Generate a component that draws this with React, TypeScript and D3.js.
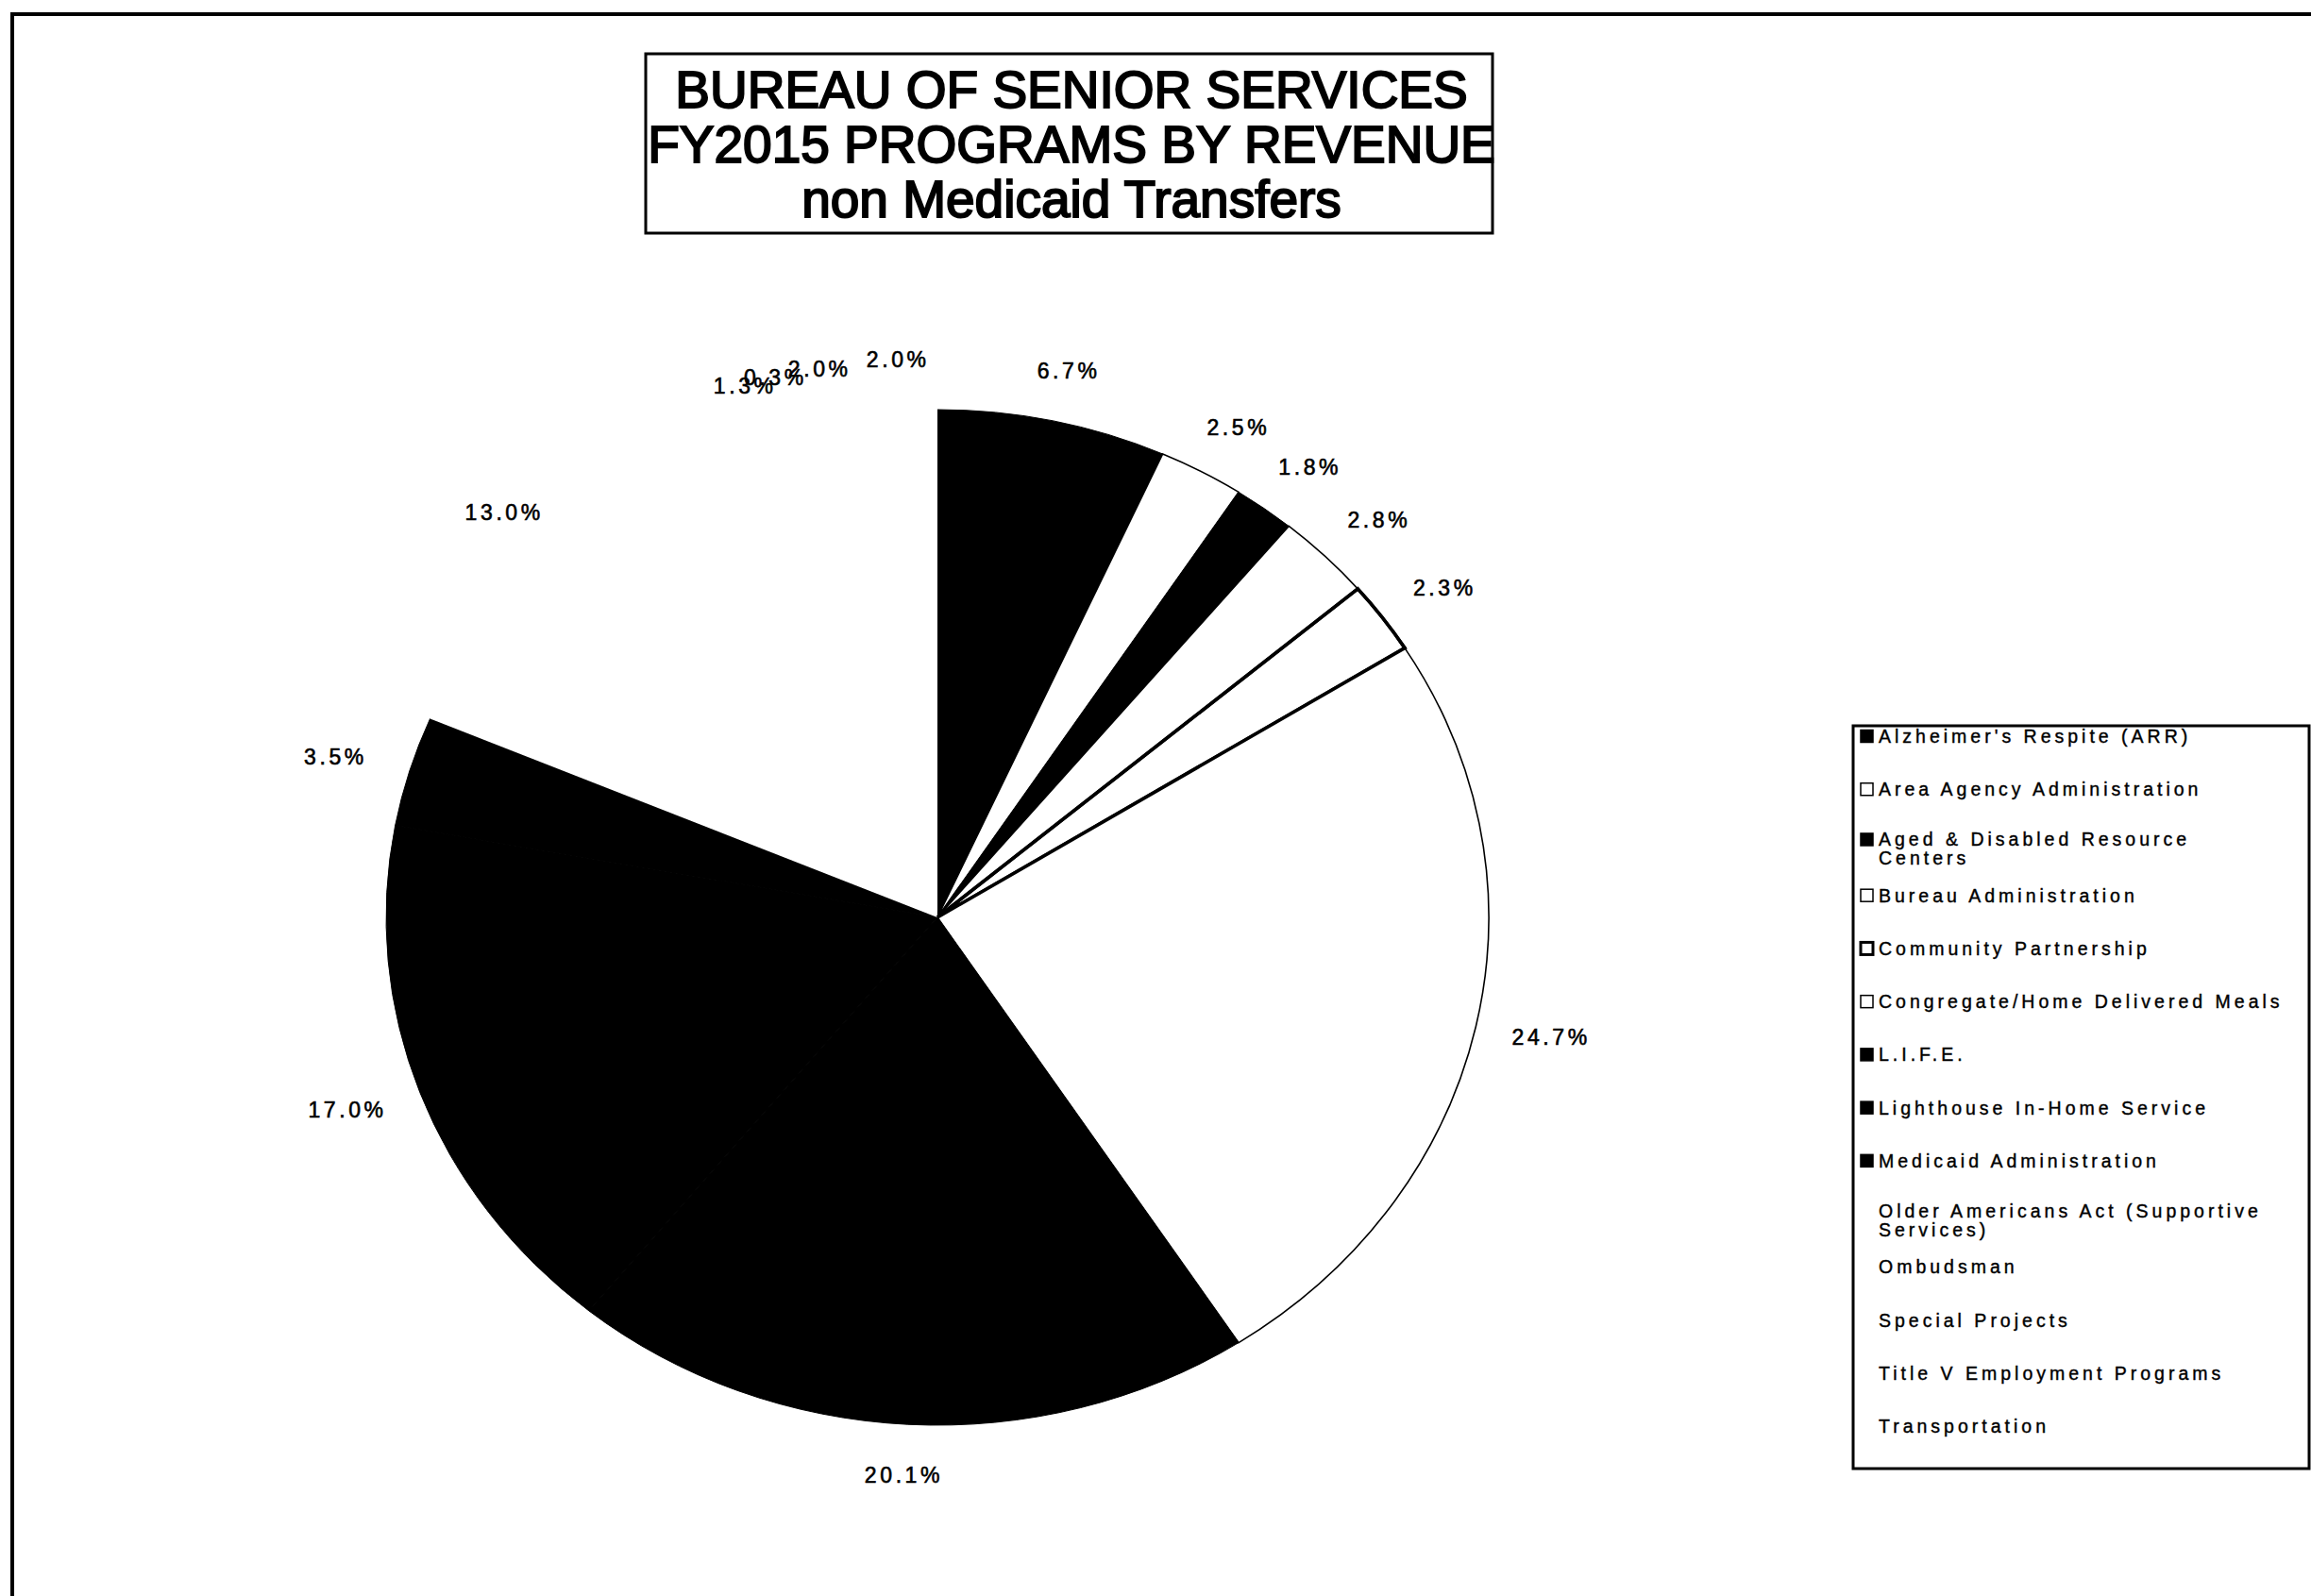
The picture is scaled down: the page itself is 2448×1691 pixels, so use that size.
import React from "react";
import * as d3 from "d3";

const titleLines = ["BUREAU OF SENIOR SERVICES", "FY2015 PROGRAMS BY REVENUE", "non Medicaid Transfers"];

const categories = [
  "Alzheimer's Respite (ARR)",
  "Area Agency Administration",
  "Aged & Disabled Resource Centers",
  "Bureau Administration",
  "Community Partnership",
  "Congregate/Home Delivered Meals",
  "L.I.F.E.",
  "Lighthouse In-Home Service",
  "Medicaid Administration",
  "Older Americans Act (Supportive Services)",
  "Ombudsman",
  "Special Projects",
  "Title V Employment Programs",
  "Transportation",
];

const legendLines = [
  ["Alzheimer's Respite (ARR)"],
  ["Area Agency Administration"],
  ["Aged & Disabled Resource", "Centers"],
  ["Bureau Administration"],
  ["Community Partnership"],
  ["Congregate/Home Delivered Meals"],
  ["L.I.F.E."],
  ["Lighthouse In-Home Service"],
  ["Medicaid Administration"],
  ["Older Americans Act (Supportive", "Services)"],
  ["Ombudsman"],
  ["Special Projects"],
  ["Title V Employment Programs"],
  ["Transportation"],
];

const shares = [6.7, 2.5, 1.8, 2.8, 2.3, 24.7, 20.1, 17.0, 3.5, 13.0, 1.3, 0.3, 2.0, 2.0];

const fills = ["#000", "#fff", "#000", "#fff", "#fff", "#fff", "#000", "#000", "#000", "#fff", "#fff", "#fff", "#fff", "#fff"];
const outline = ["none", "thin", "none", "thin", "thick", "thin", "none", "none", "none", "none", "none", "none", "none", "none"];

const W = 2448;
const H = 1691;

export default function App() {
  const cx = 993;
  const cy = 972;
  const ry = 538;
  const rx = 584;
  const sx = rx / ry;

  const pie = d3.pie<number>().sort(null).value((d) => d);
  const arcs = pie(shares);
  const arcGen = d3.arc<d3.PieArcDatum<number>>().innerRadius(0).outerRadius(ry);

  const strokeW = (o: string) => (o === "thick" ? 3.5 : o === "thin" ? 1.6 : 0);

  const legendX = 1963;
  const legendY = 769;
  const legendH = 787;
  const itemY = d3.scaleLinear().domain([0, categories.length - 1]).range([780, 1511]);

  const font = "'Liberation Sans', Arial, sans-serif";

  return (
    <svg width={W} height={H} style={{ position: "absolute", left: 0, top: 0, background: "#fff" }}>
      <rect x={0} y={0} width={W} height={H} fill="#fff" />
      <rect x={13} y={15} width={W + 100} height={H + 100} fill="none" stroke="#000" strokeWidth={4} />

      {/* Title */}
      <rect x={684} y={57} width={897} height={190} fill="#fff" stroke="#000" strokeWidth={3} />
      {titleLines.map((t, i) => (
        <text
          key={i}
          x={1135}
          y={114 + i * 58}
          textAnchor="middle"
          fontFamily={font}
          fontWeight="normal"
          fontSize={55}
          stroke="#000"
          strokeWidth={2}
          fill="#000"
        >
          {t}
        </text>
      ))}

      {/* Pie */}
      <g transform={`translate(${cx},${cy}) scale(${sx},1)`}>
        {arcs.map((a, i) => (
          <path
            key={i}
            d={arcGen(a) || ""}
            fill={fills[i]}
            stroke={outline[i] === "none" ? (fills[i] === "#000" ? "#000" : "none") : "#000"}
            strokeWidth={outline[i] === "none" ? (fills[i] === "#000" ? 1 : 0) : strokeW(outline[i])}
            vectorEffect="non-scaling-stroke"
          />
        ))}
        {arcs.map((a, i) =>
          outline[i] === "thick" ? (
            <path
              key={"t" + i}
              d={arcGen(a) || ""}
              fill="none"
              stroke="#000"
              strokeWidth={3.5}
              vectorEffect="non-scaling-stroke"
            />
          ) : null
        )}
      </g>

      {/* Pie labels */}
      {arcs.map((a, i) => {
        const mid = (a.startAngle + a.endAngle) / 2;
        const x = cx + rx * 1.14 * Math.sin(mid);
        const y = cy - ry * 1.1 * Math.cos(mid);
        return (
          <text
            key={i}
            x={x}
            y={y}
            textAnchor="middle"
            dominantBaseline="central"
            fontFamily={font}
            fontSize={23}
            letterSpacing={3.6}
            stroke="#000"
            strokeWidth={0.6}
            fill="#000"
          >
            {shares[i].toFixed(1) + "%"}
          </text>
        );
      })}

      {/* Legend */}
      <rect x={legendX} y={legendY} width={W - 2 - legendX} height={legendH} fill="#fff" stroke="#000" strokeWidth={3} />
      {legendLines.map((lines, i) => {
        const y = itemY(i) - (lines.length > 1 ? 3 : 0);
        const hasMarker = outline[i] !== "none" || fills[i] === "#000";
        return (
          <g key={i}>
            {hasMarker && (
              <rect
                x={1971}
                y={y - 6.5}
                width={13}
                height={13}
                fill={fills[i]}
                stroke="#000"
                strokeWidth={outline[i] === "thick" ? 3 : 1.5}
              />
            )}
            {lines.map((ln, j) => (
              <text
                key={j}
                x={1990}
                y={y + j * 20}
                dominantBaseline="central"
                fontFamily={font}
                fontSize={19.5}
                letterSpacing={4}
                stroke="#000"
                strokeWidth={0.4}
                fill="#000"
              >
                {ln}
              </text>
            ))}
          </g>
        );
      })}
    </svg>
  );
}
